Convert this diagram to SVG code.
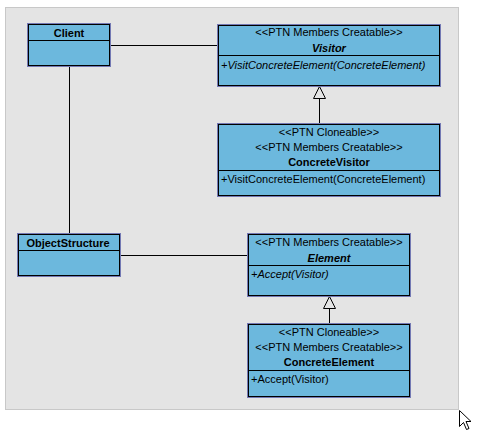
<svg xmlns="http://www.w3.org/2000/svg" width="479" height="441" viewBox="0 0 479 441">
<style>
.o{fill:none;stroke:#7479b4;stroke-width:1}
.i{fill:#6cb8dd;stroke:#000;stroke-width:1}
.d{stroke:#000;stroke-width:1}
.c{stroke:#000;stroke-width:1;fill:none}
text{font-family:"Liberation Sans",Arial,sans-serif;font-size:11px;fill:#000}
.m{text-anchor:middle}
.b{font-weight:bold}
.it{font-style:italic}
</style>
<rect x="0" y="0" width="479" height="441" fill="#fff"/>
<rect x="5.5" y="7.5" width="453" height="402" fill="#e4e4e4" stroke="#c8c8c8"/>
<g id="connectors">
<line class="c" x1="110.5" y1="45.5" x2="217.5" y2="45.5"/>
<line class="c" x1="69.5" y1="66.5" x2="69.5" y2="233.5"/>
<line class="c" x1="120.5" y1="255.5" x2="247.5" y2="255.5"/>
<line class="c" x1="319.5" y1="98.5" x2="319.5" y2="123.5"/>
<polygon class="c" points="319.5,86.5 313.5,98.5 325.5,98.5"/>
<line class="c" x1="329.5" y1="308.5" x2="329.5" y2="323.5"/>
<polygon class="c" points="329.5,296.5 323.5,308.5 335.5,308.5"/>
</g>
<g id="client">
<rect class="o" x="27.5" y="23.5" width="83" height="43"/>
<rect class="i" x="28.5" y="24.5" width="81" height="41"/>
<line class="d" x1="28.5" y1="40.5" x2="109.5" y2="40.5"/>
<text class="m b" x="69" y="37">Client</text>
</g>
<g id="visitor">
<rect class="o" x="217.5" y="24.5" width="223" height="62"/>
<rect class="i" x="218.5" y="25.5" width="221" height="60"/>
<line class="d" x1="218.5" y1="55.5" x2="439.5" y2="55.5"/>
<text class="m" x="329" y="36">&lt;&lt;PTN Members Creatable&gt;&gt;</text>
<text class="m b it" x="329" y="52">Visitor</text>
<text class="it" x="221" y="69">+VisitConcreteElement(ConcreteElement)</text>
</g>
<g id="concreteVisitor">
<rect class="o" x="217.5" y="123.5" width="223" height="73"/>
<rect class="i" x="218.5" y="124.5" width="221" height="71"/>
<line class="d" x1="218.5" y1="170.5" x2="439.5" y2="170.5"/>
<text class="m" x="329" y="136">&lt;&lt;PTN Cloneable&gt;&gt;</text>
<text class="m" x="329" y="151">&lt;&lt;PTN Members Creatable&gt;&gt;</text>
<text class="m b" x="329" y="166">ConcreteVisitor</text>
<text x="221" y="183">+VisitConcreteElement(ConcreteElement)</text>
</g>
<g id="objectStructure">
<rect class="o" x="17.5" y="233.5" width="103" height="43"/>
<rect class="i" x="18.5" y="234.5" width="101" height="41"/>
<line class="d" x1="18.5" y1="250.5" x2="119.5" y2="250.5"/>
<text class="m b" x="68" y="247">ObjectStructure</text>
</g>
<g id="element">
<rect class="o" x="247.5" y="233.5" width="163" height="63"/>
<rect class="i" x="248.5" y="234.5" width="161" height="61"/>
<line class="d" x1="248.5" y1="265.5" x2="409.5" y2="265.5"/>
<text class="m" x="329" y="246">&lt;&lt;PTN Members Creatable&gt;&gt;</text>
<text class="m b it" x="329" y="262">Element</text>
<text class="it" x="251" y="278">+Accept(Visitor)</text>
</g>
<g id="concreteElement">
<rect class="o" x="247.5" y="323.5" width="163" height="74"/>
<rect class="i" x="248.5" y="324.5" width="161" height="72"/>
<line class="d" x1="248.5" y1="370.5" x2="409.5" y2="370.5"/>
<text class="m" x="329" y="336">&lt;&lt;PTN Cloneable&gt;&gt;</text>
<text class="m" x="329" y="351">&lt;&lt;PTN Members Creatable&gt;&gt;</text>
<text class="m b" x="329" y="366">ConcreteElement</text>
<text x="251" y="383">+Accept(Visitor)</text>
</g>
<polygon points="459.5,410.5 459.5,426.5 463.5,422.5 466.5,429.5 469,428.5 466,421.5 471,421.5" fill="#fff" stroke="#000" stroke-width="1" stroke-linejoin="miter"/>
</svg>
